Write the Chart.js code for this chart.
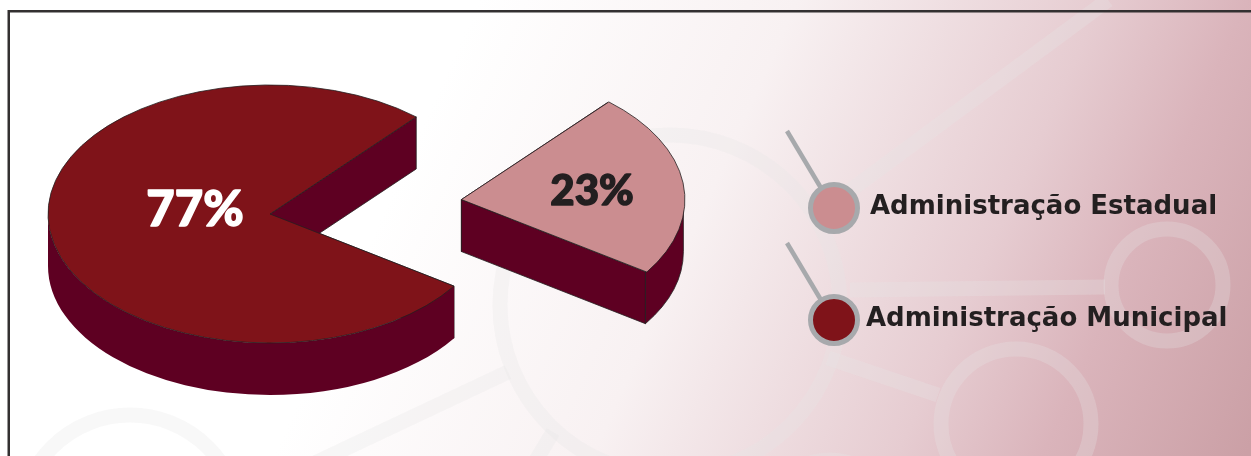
<!DOCTYPE html>
<html lang="pt">
<head>
<meta charset="utf-8">
<title>Administração</title>
<script src="https://cdn.jsdelivr.net/npm/chart.js@4"></script>
<style>
  html, body { margin: 0; padding: 0; background: #fff; }
  canvas { display: block; }
</style>
</head>
<body>
<canvas id="pie" width="1251" height="456"></canvas>
<script>
// Shares by level of administration
const categories = ['Administração Municipal', 'Administração Estadual'];
const shares = [77, 23];
const topColors = ['#7f1319', '#cb8d90'];
const sideColor = '#5e0022';
const valueColors = ['#ffffff', '#231f20'];

const squash = 129 / 222;
const depth = 52;
const lineColor = '#231f20';

// Faint rings and connecting bars behind everything
const rings = [[670, 305, 170], [1167, 285, 56], [1016, 424, 75], [130, 525, 110], [830, 520, 60]];
const bars = [[1108, 0, 840, 198], [850, 290, 1105, 287], [828, 358, 938, 395], [508, 372, 300, 470], [553, 432, 535, 462]];

const backdrop = {
  id: 'backdrop',
  beforeDraw(chart) {
    const ctx = chart.ctx;
    const g = ctx.createLinearGradient(0, 0, 1206, 543);
    g.addColorStop(0.33, '#ffffff');
    g.addColorStop(0.55, '#f8f1f2');
    g.addColorStop(0.76, '#e6ccd1');
    g.addColorStop(0.86, '#dab4bb');
    g.addColorStop(1, '#cba0a6');
    ctx.fillStyle = g;
    ctx.fillRect(0, 0, chart.width, chart.height);

    ctx.strokeStyle = 'rgba(230, 230, 230, 0.28)';
    ctx.lineWidth = 15;
    rings.forEach(([x, y, r]) => {
      ctx.beginPath();
      ctx.arc(x, y, r, 0, Math.PI * 2);
      ctx.stroke();
    });
    bars.forEach(([x1, y1, x2, y2]) => {
      ctx.beginPath();
      ctx.moveTo(x1, y1);
      ctx.lineTo(x2, y2);
      ctx.stroke();
    });

    // outer frame, open on the right and at the bottom
    ctx.strokeStyle = '#333031';
    ctx.lineWidth = 2.5;
    ctx.beginPath();
    ctx.moveTo(8.75, chart.height);
    ctx.lineTo(8.75, 11.25);
    ctx.lineTo(chart.width, 11.25);
    ctx.stroke();
  }
};

// Flattens the pie into an ellipse and gives each slice a side wall
const extrude = {
  id: 'extrude',
  beforeDatasetDraw(chart, args) {
    const ctx = chart.ctx;
    const cy = (chart.chartArea.top + chart.chartArea.bottom) / 2;
    const d = depth / squash;
    ctx.save();
    ctx.translate(0, cy);
    ctx.scale(1, squash);
    ctx.translate(0, -cy);

    args.meta.data.forEach(arc => {
      const { x, y, startAngle, endAngle, outerRadius: r } = arc.getProps(['x', 'y', 'startAngle', 'endAngle', 'outerRadius']);
      const mid = (startAngle + endAngle) / 2;
      const shift = (arc.options.offset || 0) / 4;
      const ox = x + Math.cos(mid) * shift;
      const oy = y + Math.sin(mid) * shift;

      ctx.fillStyle = sideColor;
      ctx.strokeStyle = lineColor;
      ctx.lineWidth = 1;

      // flat cut faces
      [startAngle, endAngle].forEach(a => {
        const ex = ox + Math.cos(a) * r;
        const ey = oy + Math.sin(a) * r;
        ctx.beginPath();
        ctx.moveTo(ox, oy);
        ctx.lineTo(ex, ey);
        ctx.lineTo(ex, ey + d);
        ctx.lineTo(ox, oy + d);
        ctx.closePath();
        ctx.fill();
        ctx.stroke();
      });

      // curved rim, only the part that faces the viewer
      for (let k = 0; k < 2; k++) {
        const from = Math.max(startAngle, k * Math.PI * 2);
        const to = Math.min(endAngle, Math.PI + k * Math.PI * 2);
        if (from >= to) continue;
        ctx.beginPath();
        ctx.arc(ox, oy, r, from, to);
        ctx.arc(ox, oy + d, r, to, from, true);
        ctx.closePath();
        ctx.fill();
        if (shift > 0) ctx.stroke();
      }
    });
  },
  afterDatasetDraw(chart) {
    chart.ctx.restore();
  }
};

// Percent labels on the slices and the pin-style legend on the right
const annotate = {
  id: 'annotate',
  afterDraw(chart) {
    const ctx = chart.ctx;
    ctx.save();
    ctx.textAlign = 'center';
    ctx.textBaseline = 'alphabetic';
    ctx.lineWidth = 1.4;
    ctx.lineJoin = 'round';
    // a thin outline thickens the heavy percent figures
    [[0, '900 49px Lato', 195, 226], [1, '900 42px Lato', 592, 205]].forEach(([i, font, x, y]) => {
      ctx.font = font;
      ctx.fillStyle = ctx.strokeStyle = valueColors[i];
      ctx.fillText(shares[i] + '%', x, y);
      ctx.strokeText(shares[i] + '%', x, y);
    });

    [[1, 208, 870, 214], [0, 320, 866, 326]].forEach(([i, cy, tx, ty]) => {
      ctx.strokeStyle = '#a7a9ac';
      ctx.lineWidth = 4.5;
      ctx.beginPath();
      ctx.moveTo(787, cy - 77);
      ctx.lineTo(821, cy - 20);
      ctx.stroke();
      ctx.lineWidth = 5;
      ctx.fillStyle = topColors[i];
      ctx.beginPath();
      ctx.arc(834, cy, 23.5, 0, Math.PI * 2);
      ctx.fill();
      ctx.stroke();

      ctx.textAlign = 'left';
      ctx.fillStyle = '#231f20';
      ctx.font = 'bold 26px "DejaVu Sans"';
      ctx.fillText(categories[i], tx, ty);
    });
    ctx.restore();
  }
};

new Chart(document.getElementById('pie').getContext('2d'), {
  type: 'pie',
  data: {
    labels: categories,
    datasets: [{
      data: shares,
      backgroundColor: topColors,
      borderColor: lineColor,
      borderWidth: 1,
      offset: [0, 772],
      clip: false
    }]
  },
  options: {
    responsive: false,
    animation: false,
    rotation: 124,
    radius: 222,
    cutout: '0%',
    layout: { padding: { right: 711, bottom: 28 } },
    plugins: { legend: { display: false }, tooltip: { enabled: false } }
  },
  plugins: [backdrop, extrude, annotate]
});
</script>
</body>
</html>
